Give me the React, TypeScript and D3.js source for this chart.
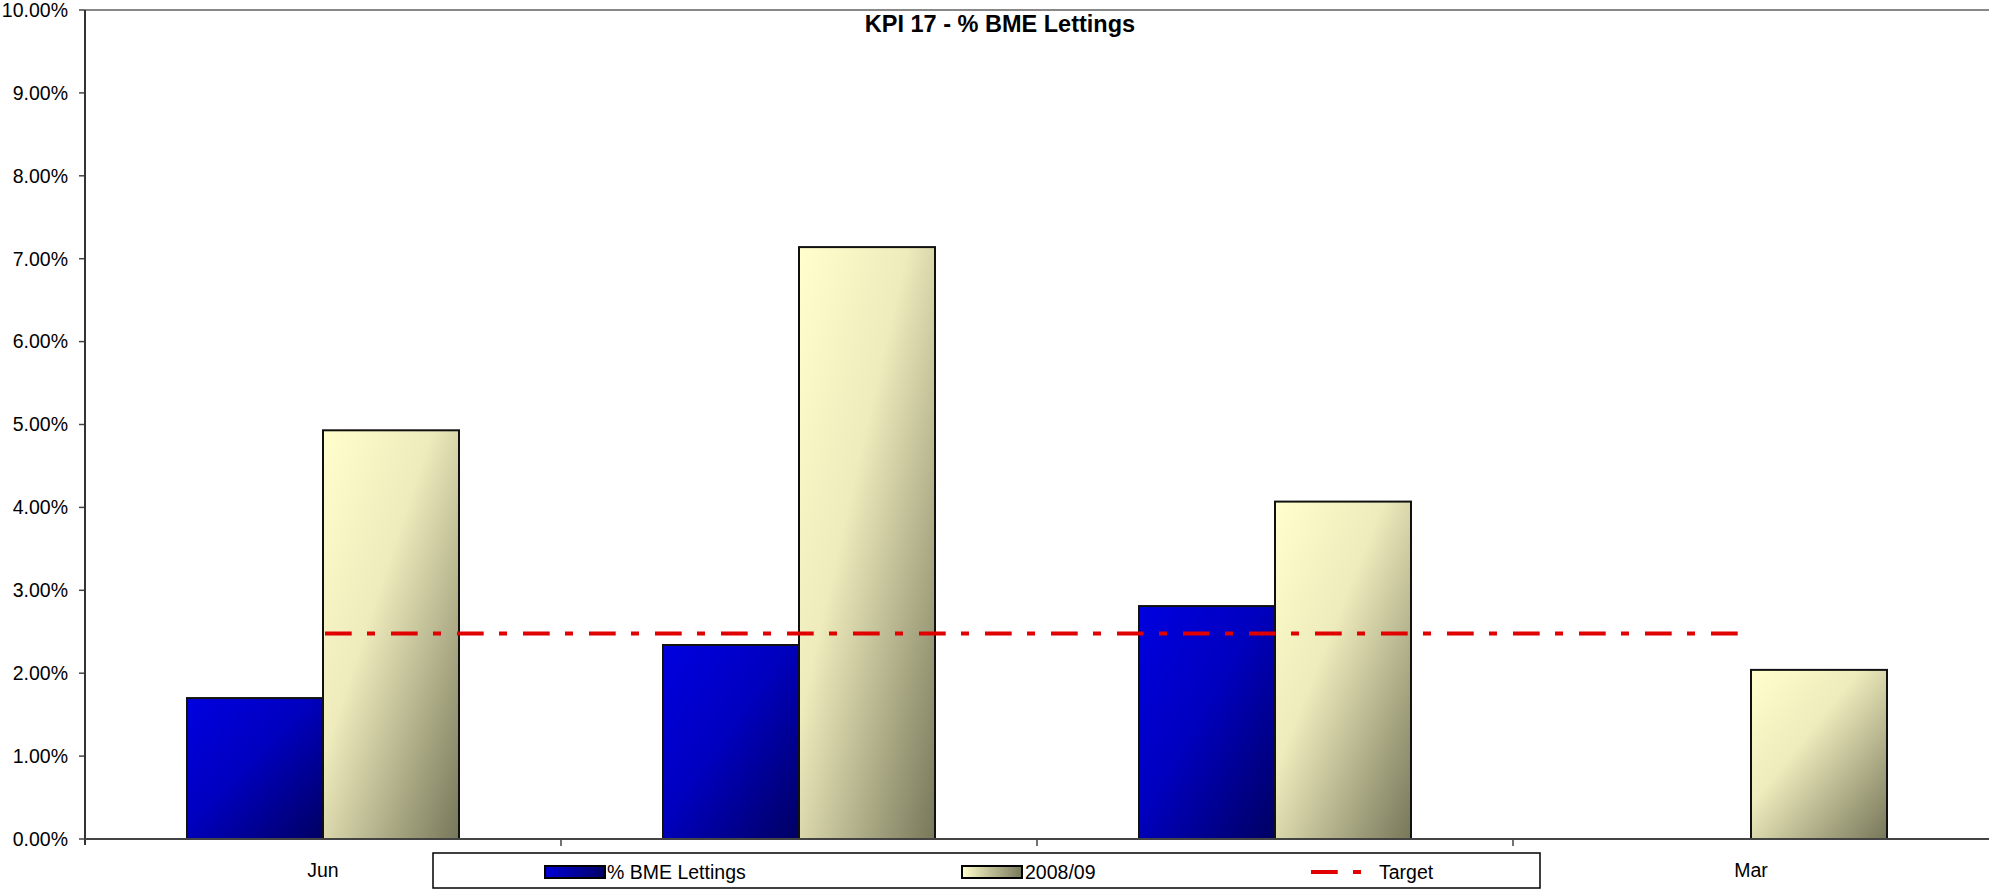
import React from "react";
import * as d3 from "d3";

const categories = ["Jun", "Sep", "Dec", "Mar"];
const visibleCategoryLabels = ["Jun", "Mar"];
const bmeLettings: (number | null)[] = [1.7, 2.34, 2.81, null];
const season2008: (number | null)[] = [4.93, 7.14, 4.07, 2.04];
const target: number[] = [2.48, 2.48, 2.48, 2.48];
const yTicks = [0, 1, 2, 3, 4, 5, 6, 7, 8, 9, 10];
const seriesNames = ["% BME Lettings", "2008/09"];
const targetName = "Target";
const title = "KPI 17 - % BME Lettings";

const W = 1990;
const H = 890;
const FONT = "'Liberation Sans', Arial, Helvetica, sans-serif";

export default function App() {
  const left = 85;
  const right = 1989;
  const top = 10;
  const bottom = 839;

  const y = d3.scaleLinear().domain([0, 10]).range([bottom, top]);
  const x0 = d3.scaleBand<string>().domain(categories).range([left, right]).padding(0);
  const bw = x0.bandwidth();
  const groupW = (bw * 2) / 3.5;
  const x1 = d3.scaleBand<string>().domain(seriesNames).range([0, groupW]).padding(0);
  const fmt = (v: number) => d3.format(".2f")(v) + "%";

  const line = d3
    .line<number>()
    .x((_, i) => (x0(categories[i]) as number) + bw / 2)
    .y((d) => y(d));

  const dash = "26.7,15.3,8,16";
  const seriesData = [bmeLettings, season2008];
  const fills = ["url(#gBlue)", "url(#gCream)"];

  return (
    <svg
      width={W}
      height={H}
      style={{ position: "absolute", left: 0, top: 0, background: "#fff" }}
      fontFamily={FONT}
    >
      <defs>
        <linearGradient id="gBlue" x1="0" y1="0" x2="1" y2="1">
          <stop offset="0" stopColor="#0000E0" />
          <stop offset="0.45" stopColor="#0000C0" />
          <stop offset="1" stopColor="#000062" />
        </linearGradient>
        <linearGradient id="gCream" x1="0" y1="0" x2="1" y2="1">
          <stop offset="0" stopColor="#FFFFCC" />
          <stop offset="0.4" stopColor="#EEEBBC" />
          <stop offset="1" stopColor="#77775A" />
        </linearGradient>
        <linearGradient id="gBlueL" x1="0" y1="0" x2="1" y2="0">
          <stop offset="0" stopColor="#0000D8" />
          <stop offset="1" stopColor="#000066" />
        </linearGradient>
        <linearGradient id="gCreamL" x1="0" y1="0" x2="1" y2="0">
          <stop offset="0" stopColor="#FFFFCC" />
          <stop offset="1" stopColor="#77775A" />
        </linearGradient>
      </defs>

      {/* plot top border */}
      <line x1={left} x2={right} y1={top} y2={top} stroke="#888" strokeWidth={2} />

      {/* y ticks and labels */}
      {yTicks.map((t) => (
        <g key={t}>
          <line x1={left - 6} x2={left} y1={y(t)} y2={y(t)} stroke="#444" strokeWidth={1.5} />
          <text
            x={68}
            y={y(t)}
            dy="0.35em"
            textAnchor="end"
            fontSize={19.5}
            fill="#000"
          >
            {fmt(t)}
          </text>
        </g>
      ))}

      {/* bars */}
      {categories.map((c, i) => {
        const gx = (x0(c) as number) + (bw - groupW) / 2;
        return (
          <g key={c}>
            {seriesData.map((s, si) => {
              const v = s[i];
              if (v === null || v === undefined) return null;
              const bx = gx + (x1(seriesNames[si]) as number);
              return (
                <rect
                  key={si}
                  x={bx}
                  y={y(v)}
                  width={x1.bandwidth()}
                  height={y(0) - y(v)}
                  fill={fills[si]}
                  stroke="#111"
                  strokeWidth={2}
                />
              );
            })}
          </g>
        );
      })}

      {/* target line */}
      <path
        d={line(target) || ""}
        fill="none"
        stroke="#E00000"
        strokeWidth={4}
        strokeDasharray={dash}
        strokeDashoffset={-2}
      />

      {/* axes */}
      <line x1={left} x2={left} y1={top} y2={bottom + 6} stroke="#333" strokeWidth={2} />
      <line x1={left} x2={right} y1={bottom} y2={bottom} stroke="#444" strokeWidth={2} />
      {categories.slice(1).map((c) => (
        <line
          key={c}
          x1={x0(c) as number}
          x2={x0(c) as number}
          y1={bottom}
          y2={bottom + 7}
          stroke="#444"
          strokeWidth={1.5}
        />
      ))}

      {/* category labels */}
      {visibleCategoryLabels.map((c) => (
        <text
          key={c}
          x={(x0(c) as number) + bw / 2}
          y={877}
          textAnchor="middle"
          fontSize={19.5}
          fill="#000"
        >
          {c}
        </text>
      ))}

      {/* title */}
      <text x={1000} y={32} textAnchor="middle" fontSize={23.5} fontWeight="bold" fill="#000">
        {title}
      </text>

      {/* legend */}
      <rect x={433} y={853} width={1107} height={35} fill="#fff" stroke="#000" strokeWidth={1.5} />
      <rect x={545} y={866} width={60} height={12} fill="url(#gBlueL)" stroke="#000" strokeWidth={2} />
      <text x={607} y={879} fontSize={19.5} fill="#000">
        {seriesNames[0]}
      </text>
      <rect x={962} y={866} width={60} height={12} fill="url(#gCreamL)" stroke="#000" strokeWidth={2} />
      <text x={1025} y={879} fontSize={19.5} fill="#000">
        {seriesNames[1]}
      </text>
      <line
        x1={1311}
        x2={1362}
        y1={872}
        y2={872}
        stroke="#E00000"
        strokeWidth={4}
        strokeDasharray={dash}
      />
      <text x={1379} y={879} fontSize={19.5} fill="#000">
        {targetName}
      </text>
    </svg>
  );
}
